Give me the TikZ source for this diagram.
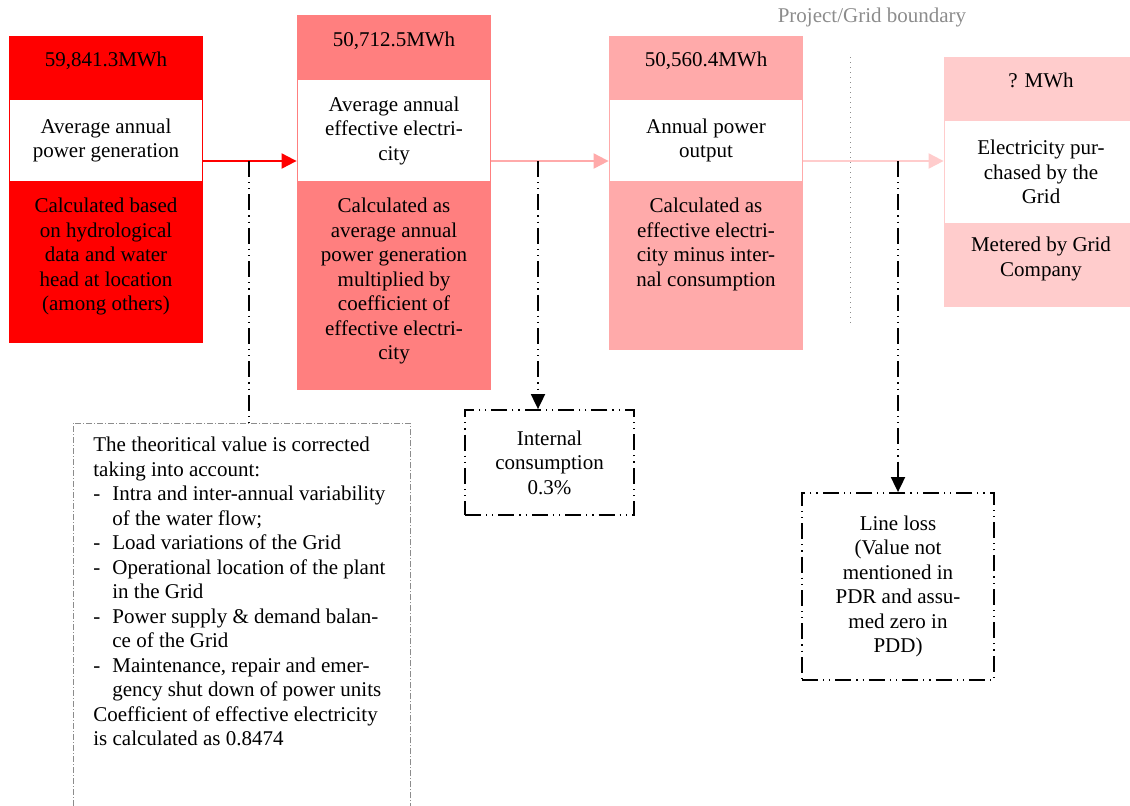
\documentclass[tikz,border=0pt]{standalone}
\usepackage{fontspec}
\setmainfont{Liberation Serif}
\usepackage{xcolor}
\definecolor{rougeProd}{HTML}{FF0000}
\definecolor{rougeEff}{HTML}{FF7F7F}
\definecolor{roseSortie}{HTML}{FFAAAA}
\definecolor{roseReseau}{HTML}{FFCCCC}
\definecolor{grisLimite}{HTML}{8C8C8C}
\usepackage{tikz}
\usetikzlibrary{arrows.meta, positioning, calc}
\newcommand{\puce}{\makebox[9.5pt][l]{-}}
\newcommand{\suite}{\hspace*{9.5pt}}
\tikzset{
  %% ── Blocs ────────────────────────────────────────────────────────────
  %% One coloured column per step of the energy chain, a white band in the
  %% middle carries the name of the quantity.
  bloc/.style       = {draw=none, minimum width=97pt, inner sep=0pt},
  blocBlanc/.style  = {fill=white, minimum width=96pt, inner sep=0pt,
                       align=center},
  texteBloc/.style  = {align=center, inner sep=0pt, anchor=north},
  %%
  %% ── Fleches ──────────────────────────────────────────────────────────
  fleche/.style     = {-{Triangle[length=7.5pt, width=7.5pt]}, line width=1pt},
  tiret/.style      = {draw=black, line width=0.9pt,
                       dash pattern=on 8pt off 2.5pt on 0.6pt off 2.5pt on 0.6pt off 2.5pt},
  tiretFleche/.style = {tiret, -{Triangle[length=7.5pt, width=7pt]}},
  %%
  %% ── Cadres ───────────────────────────────────────────────────────────
  cadre/.style      = {tiret, align=center, inner sep=0pt},
  cadrePale/.style  = {draw=grisLimite, line width=0.4pt, inner sep=0pt,
                       dash pattern=on 3pt off 1pt on 0.5pt off 1pt},
  limite/.style     = {draw=grisLimite, line width=0.5pt, dotted},
}

\begin{document}
\begin{tikzpicture}[x=0.5pt, y=-0.5pt, font=\fontsize{10.5pt}{12.25pt}\selectfont]

\useasboundingbox (0,0) rectangle (1130,805);
\clip (0,0) rectangle (1130,805);

% production
\node[bloc, fill=rougeProd, minimum height=153.5pt] (prod) at (106,189.5) {};
\node[blocBlanc, minimum height=40.5pt] (prodNom) at (106,140.5)
     {Average annual\\power generation};
\node[texteBloc] (prodVal) at (106,52) {59,841.3MWh};
\node[texteBloc] (prodNote) at (106,198)
     {Calculated based\\on hydrological\\data and water\\head at location\\(among others)};

% effective electricity
\node[bloc, fill=rougeEff, minimum height=187.5pt] (eff) at (394,202.5) {};
\node[blocBlanc, minimum height=50.5pt] (effNom) at (394,130.5)
     {Average annual\\effective electri-\\city};
\node[texteBloc] (effVal) at (394,32) {50,712.5MWh};
\node[texteBloc] (effNote) at (394,198)
     {Calculated as\\average annual\\power generation\\multiplied by\\coefficient of\\effective electri-\\city};

% output
\node[bloc, fill=roseSortie, minimum height=157pt] (sortie) at (706,193) {};
\node[blocBlanc, minimum height=40.5pt] (sortieNom) at (706,140.5)
     {Annual power\\output};
\node[texteBloc] (sortieVal) at (706,52) {50,560.4MWh};
\node[texteBloc] (sortieNote) at (706,198)
     {Calculated as\\effective electri-\\city minus inter-\\nal consumption};

% grid
\node[bloc, fill=roseReseau, minimum height=125pt] (reseau) at (1041,182) {};
\node[blocBlanc, minimum height=51pt] (reseauNom) at (1041,172)
     {Electricity pur-\\chased by the\\Grid};
\node[texteBloc] (reseauVal) at (1041,73) {? MWh};
\node[texteBloc] (reseauNote) at (1041,237) {Metered by Grid\\Company};

% flows
\draw[fleche, draw=rougeProd, fill=rougeProd] (prod.east |- 0,161) -- (eff.west |- 0,161);
\draw[fleche, draw=roseSortie, fill=roseSortie] (eff.east |- 0,161) -- (sortie.west |- 0,161);
\draw[fleche, draw=roseReseau, fill=roseReseau] (sortie.east |- 0,161) -- (reseau.west |- 0,161);

% boundary
\coordinate (limHaut) at (850,57);
\coordinate (limBas) at (850,325);
\draw[limite] (limHaut) -- (limBas);
\node[text=grisLimite, inner sep=0pt] (limTitre) at (872,17) {Project/Grid boundary};

% losses
\node[cadrePale, minimum width=168.5pt, minimum height=195pt, anchor=north] (corr) at (241.5,423) {};
\node[align=left, inner sep=0pt, anchor=north west] (corrTexte) at (93,437)
     {The theoritical value is corrected\\
      taking into account:\\
      \puce Intra and inter-annual variability\\
      \suite of the water flow;\\
      \puce Load variations of the Grid\\
      \puce Operational location of the plant\\
      \suite in the Grid\\
      \puce Power supply \& demand balan-\\
      \suite ce of the Grid\\
      \puce Maintenance, repair and emer-\\
      \suite gency shut down of power units\\
      Coefficient of effective electricity\\
      is calculated as 0.8474};
\node[cadre, minimum width=84.5pt, minimum height=52.5pt] (conso) at (549.5,462.5)
     {Internal\\consumption\\0.3\%};
\node[cadre, minimum width=96pt, minimum height=93.5pt] (perte) at (898,586.5)
     {Line loss\\(Value not\\mentioned in\\PDR and assu-\\med zero in\\PDD)};

\coordinate (prisProd) at (249,161);
\coordinate (prisEff) at (538,161);
\coordinate (prisSortie) at (898,161);
\draw[tiret] (prisProd) -- (prisProd |- corr.north);
\draw[tiretFleche] (prisEff) -- (prisEff |- conso.north);
\draw[tiretFleche] (prisSortie) -- (perte.north);

\end{tikzpicture}
\end{document}
